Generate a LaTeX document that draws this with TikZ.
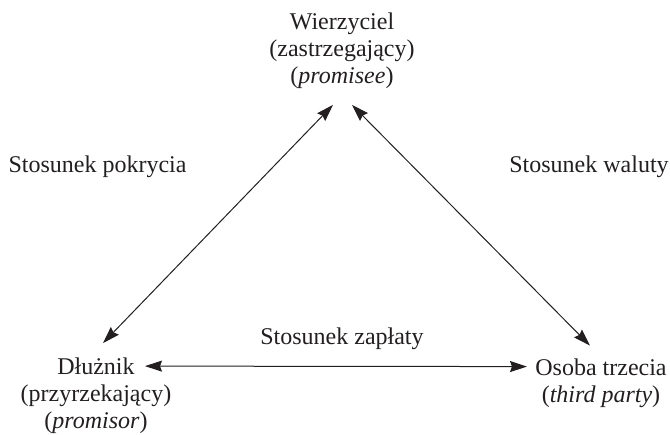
\documentclass[tikz,border=0pt]{standalone}
\usepackage{fontspec}
\setmainfont{Liberation Serif}
\usetikzlibrary{arrows.meta,calc}
\definecolor{ink}{HTML}{231F20}
\begin{document}
\begin{tikzpicture}[x=1pt,y=-1pt,
  every node/.style={inner sep=0pt,outer sep=0pt,text=ink,font=\fontsize{24}{27}\selectfont},
  party/.style={align=center},
  rel/.style={anchor=base},
  link/.style={draw=ink,line width=1pt,{Stealth[length=17pt,width=11pt,inset=2pt]}-{Stealth[length=17pt,width=11pt,inset=2pt]}}]
\useasboundingbox (0,0) rectangle (670,435);
\node[party] (top) at (342,51) {Wierzyciel\\(zastrzegający)\\(\textit{promisee})};
\node[party] (left) at (96,396) {Dłużnik\\(przyrzekający)\\(\textit{promisor})};
\node[party] (right) at (601,383) {Osoba trzecia\\(\textit{third party})};
\node[rel] (lpok) at (97.5,173) {Stosunek pokrycia};
\node[rel] (lwal) at (589,173) {Stosunek waluty};
\node[rel] (lzap) at (342,345) {Stosunek zapłaty};
\coordinate (tl) at ($(top.south)+(-9,16)$);
\coordinate (tr) at ($(top.south)+(10,16)$);
\coordinate (lt) at ($(left.north)+(7,-15)$);
\coordinate (lr) at ($(left.north)+(49,8)$);
\coordinate (rt) at ($(right.north)+(-11,-13)$);
\coordinate (rl) at ($(right.north)+(-74,8)$);
\draw[link] (tl) -- (lt);
\draw[link] (tr) -- (rt);
\draw[link] (lr) -- (rl);
\end{tikzpicture}
\end{document}
